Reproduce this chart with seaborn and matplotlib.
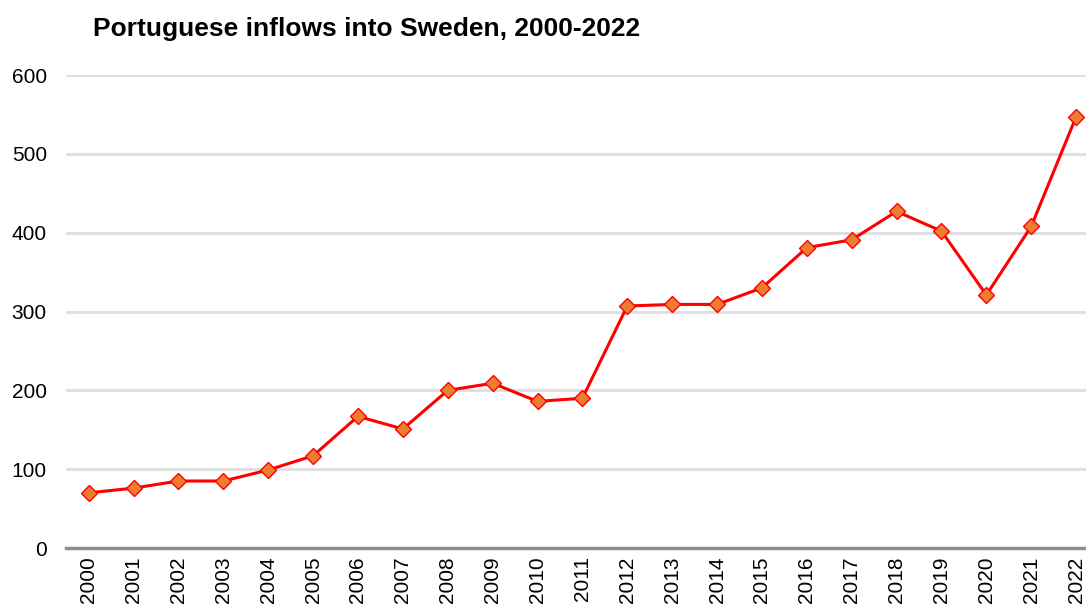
import pandas as pd
import seaborn as sns
import matplotlib.pyplot as plt

# Data
years = [str(y) for y in range(2000, 2023)]
inflows = [70, 76, 85, 85, 99, 117, 167, 151, 200, 209, 186, 190,
           307, 309, 309, 330, 381, 391, 427, 402, 321, 408, 547]

data = pd.DataFrame({"Year": years, "Inflows": inflows})

sns.set_style("white")
plt.rcParams['font.family'] = ['Liberation Sans', 'DejaVu Sans']
plt.rcParams['text.color'] = 'black'
plt.rcParams['xtick.color'] = 'black'
plt.rcParams['ytick.color'] = 'black'

fig = plt.figure(figsize=(10.86, 6.10), dpi=100)
ax = fig.add_axes([0.061, 0.1016, 0.939, 0.7754])

sns.lineplot(data=data, x="Year", y="Inflows", ax=ax, color="red", linewidth=2.2,
             marker="D", markersize=8, markerfacecolor="#ED7D31",
             markeredgecolor="red", markeredgewidth=1, sort=False, zorder=3)

ax.set_ylim(0, 600)
ax.set_xlim(-0.5, 22.22)
ax.set_yticks(range(0, 601, 100))
ax.grid(axis="y", color="#dedede", linewidth=2, zorder=0)
ax.set_axisbelow(True)

for side in ["left", "right", "top"]:
    ax.spines[side].set_visible(False)
ax.spines["bottom"].set_color("#8c8c8c")
ax.spines["bottom"].set_linewidth(2.5)

ax.tick_params(axis="x", labelrotation=90, labelsize=15, length=0, pad=6)
ax.tick_params(axis="y", labelsize=15, length=0, pad=14)
ax.set_xlabel("")
ax.set_ylabel("")

fig.text(0.086, 0.953, "Portuguese inflows into Sweden, 2000-2022",
         fontsize=19, fontweight="bold", va="center", ha="left")

fig.savefig("out.png", dpi=100)
